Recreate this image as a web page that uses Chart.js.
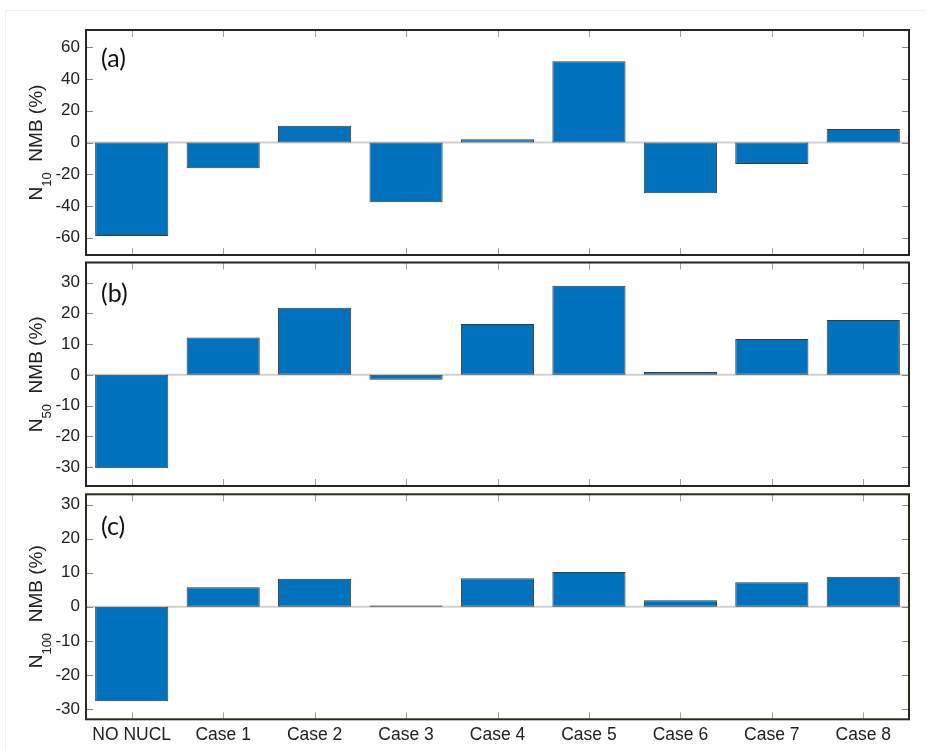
<!DOCTYPE html>
<html>
<head>
<meta charset="utf-8">
<script src="https://cdn.jsdelivr.net/npm/chart.js@4.4.1/dist/chart.umd.min.js"></script>
<style>
  html, body { margin: 0; padding: 0; background: #ffffff; }
  #wrap { position: relative; width: 926px; height: 751px; overflow: hidden; }
  .panel { position: absolute; left: 0; width: 926px; }
  .panel canvas { display: block; }
  #edge { position: absolute; left: 5px; top: 10px; width: 921px; height: 741px;
          border-left: 1px solid #eeeeee; border-top: 1px solid #eeeeee; box-sizing: border-box; }
</style>
</head>
<body>
<div id="wrap">
  <div id="edge"></div>
  <div class="panel" style="top:0;height:258px"><canvas id="pa"></canvas></div>
  <div class="panel" style="top:258px;height:232px"><canvas id="pb"></canvas></div>
  <div class="panel" style="top:490px;height:261px"><canvas id="pc"></canvas></div>
</div>
<script>
// Model runs
const categories = ['NO NUCL', 'Case 1', 'Case 2', 'Case 3', 'Case 4', 'Case 5', 'Case 6', 'Case 7', 'Case 8'];

// Normalized mean bias (%) per run
const n10Values  = [-59.0, -16.2, 10.6, -37.7, 2.1, 51.3, -32.0, -13.5, 8.5];
const n50Values  = [-30.4, 12.2, 21.9, -1.6, 16.6, 29.0, 0.9, 11.7, 17.9];
const n100Values = [-27.7, 5.7, 8.2, 0.4, 8.4, 10.2, 1.9, 7.2, 8.8];

// Y tick labels per panel
const n10Ticks  = [-60, -40, -20, 0, 20, 40, 60];
const n50Ticks  = [-30, -20, -10, 0, 10, 20, 30];
const n100Ticks = [-30, -20, -10, 0, 10, 20, 30];

const BAR_FILL = '#0072BD';
const BAR_EDGE = '#3a3a3a';
const TEXT = '#222222';

// Frame, inward ticks, zero baseline, panel tag and subscripted axis title
const panelDecor = {
  id: 'panelDecor',
  beforeDatasetsDraw(chart, args, o) {
    const { ctx, chartArea: a, scales: { y } } = chart;
    const y0 = y.getPixelForValue(0);
    ctx.save();
    ctx.strokeStyle = '#d0d0d0';
    ctx.lineWidth = 2;
    ctx.beginPath();
    ctx.moveTo(a.left, y0);
    ctx.lineTo(a.right, y0);
    ctx.stroke();
    ctx.restore();
  },
  afterDraw(chart, args, o) {
    const { ctx, chartArea: a, scales: { x, y } } = chart;
    const TL = 7;
    ctx.save();
    // x ticks (inside, top and bottom)
    ctx.strokeStyle = '#a0a0a0';
    ctx.lineWidth = 1;
    ctx.beginPath();
    x.ticks.forEach((t, i) => {
      const px = Math.round(x.getPixelForValue(i)) + 0.5;
      ctx.moveTo(px, a.top); ctx.lineTo(px, a.top + TL);
      ctx.moveTo(px, a.bottom); ctx.lineTo(px, a.bottom - TL);
    });
    ctx.stroke();
    // y ticks (inside, left and right)
    ctx.strokeStyle = '#8a8a8a';
    ctx.beginPath();
    y.ticks.forEach(t => {
      const py = Math.round(y.getPixelForValue(t.value)) + 0.5;
      ctx.moveTo(a.left, py); ctx.lineTo(a.left + TL, py);
      ctx.moveTo(a.right, py); ctx.lineTo(a.right - TL, py);
    });
    ctx.stroke();
    // box
    ctx.strokeStyle = o.frame || '#262626';
    ctx.lineWidth = 2;
    ctx.strokeRect(a.left, a.top, a.right - a.left, a.bottom - a.top);

    // panel tag
    ctx.fillStyle = '#111111';
    ctx.font = '25px Lato, "Open Sans", sans-serif';
    ctx.textAlign = 'left';
    ctx.textBaseline = 'middle';
    ctx.fillText(o.tag, 101, a.top + o.tagOffset);

    // rotated axis title: N<sub> NMB (%)
    const mainFont = '19px "Liberation Sans", Arial, sans-serif';
    const subFont = '13px "Liberation Sans", Arial, sans-serif';
    const part1 = 'N', part2 = o.sub, part3 = '  NMB (%)';
    ctx.font = mainFont;
    const w1 = ctx.measureText(part1).width, w3 = ctx.measureText(part3).width;
    ctx.font = subFont;
    const w2 = ctx.measureText(part2).width;
    const total = w1 + w2 + w3;
    const cy = (a.top + a.bottom) / 2;
    ctx.translate(42, cy);
    ctx.rotate(-Math.PI / 2);
    ctx.fillStyle = TEXT;
    ctx.textBaseline = 'alphabetic';
    let cx = -total / 2;
    ctx.font = mainFont; ctx.fillText(part1, cx, 0); cx += w1;
    ctx.font = subFont;  ctx.fillText(part2, cx, 9); cx += w2;
    ctx.font = mainFont; ctx.fillText(part3, cx, 0);
    ctx.restore();
  }
};

function makePanel(canvasId, values, ticks, range, pad, opts) {
  return new Chart(document.getElementById(canvasId), {
    type: 'bar',
    data: {
      labels: categories,
      datasets: [{
        data: values,
        backgroundColor: BAR_FILL,
        borderColor: BAR_EDGE,
        borderWidth: 1,
        borderSkipped: false,
        barPercentage: 0.8,
        categoryPercentage: 1.0
      }]
    },
    options: {
      responsive: true,
      maintainAspectRatio: false,
      animation: false,
      events: [],
      layout: { padding: { top: pad.top, bottom: pad.bottom, left: 0, right: 17 } },
      plugins: {
        legend: { display: false },
        tooltip: { enabled: false },
        panelDecor: opts
      },
      scales: {
        x: {
          type: 'category',
          display: opts.showX,
          offset: true,
          grid: { display: false, drawTicks: false },
          border: { display: false },
          ticks: {
            color: TEXT,
            padding: 5,
            maxRotation: 0,
            autoSkip: false,
            font: { family: '"Liberation Sans", Arial, sans-serif', size: 17.5 }
          },
          afterFit(s) {
            if (opts.showX) s.height = 31.7;
            s.paddingLeft = 0; s.paddingRight = 0;
          }
        },
        y: {
          type: 'linear',
          min: range[0],
          max: range[1],
          grid: { display: false, drawTicks: false },
          border: { display: false },
          afterBuildTicks(s) { s.ticks = ticks.map(v => ({ value: v })); },
          afterFit(s) {
            s.width = 86;
            s.paddingTop = 0; s.paddingBottom = 0;
          },
          ticks: {
            color: TEXT,
            padding: 6,
            font: { family: '"Liberation Sans", Arial, sans-serif', size: 17 }
          }
        }
      }
    },
    plugins: [panelDecor]
  });
}

makePanel('pa', n10Values, n10Ticks, [-71, 71], { top: 30, bottom: 3 },
  { tag: '(a)', tagOffset: 29, sub: '10', showX: false, frame: '#262626' });
makePanel('pb', n50Values, n50Ticks, [-36.2, 36.6], { top: 4.5, bottom: 4 },
  { tag: '(b)', tagOffset: 31, sub: '50', showX: false, frame: '#262626' });
makePanel('pc', n100Values, n100Ticks, [-33, 33], { top: 4.3, bottom: 0 },
  { tag: '(c)', tagOffset: 32.7, sub: '100', showX: true, frame: '#2b2a1c' });
</script>
</body>
</html>
